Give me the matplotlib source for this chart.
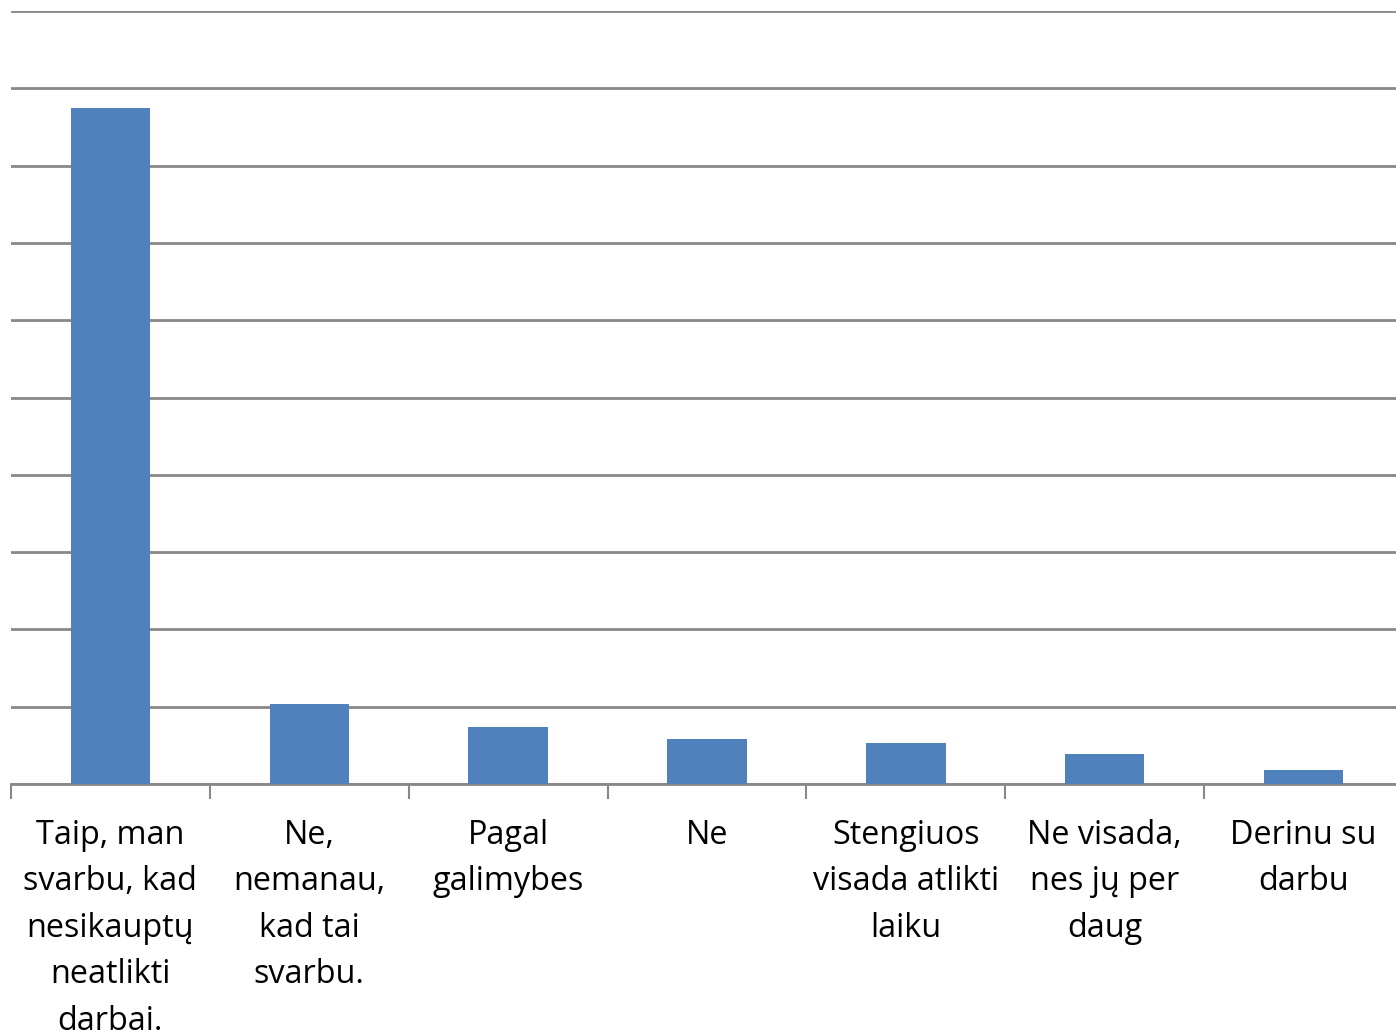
import numpy as np
import matplotlib.pyplot as plt

# Data (one gridline = 10 units)
labels = ['Taip, man\nsvarbu, kad\nnesikauptų\nneatlikti\ndarbai.',
          'Ne,\nnemanau,\nkad tai\nsvarbu.',
          'Pagal\ngalimybes',
          'Ne',
          'Stengiuos\nvisada atlikti\nlaiku',
          'Ne visada,\nnes jų per\ndaug',
          'Derinu su\ndarbu']
values = [87.4, 10.3, 7.4, 5.8, 5.3, 3.9, 1.8]

plt.rcParams['font.family'] = ['Open Sans', 'DejaVu Sans']

fig = plt.figure(figsize=(13.96, 10.30), dpi=100)
# chart is cropped on the right in the reference
ax = fig.add_axes([11 / 1396, 246 / 1030, 1392 / 1396, 773 / 1030])

x = np.arange(len(values))
ax.bar(x, values, width=0.4, color='#4F81BD', zorder=3)

ax.set_xlim(-0.5, len(values) - 0.5)
ax.set_ylim(0, 100)
ax.set_yticks(np.arange(0, 101, 10))
ax.set_yticklabels([])
ax.tick_params(axis='y', length=0)
ax.grid(axis='y', color='#888888', linewidth=2, zorder=0)

ax.set_xticks(x)
ax.set_xticklabels(labels, fontsize=23.3, linespacing=1.54)
ax.tick_params(axis='x', length=0, pad=25)
ax.set_xticks(np.arange(-0.5, len(values), 1), minor=True)
ax.tick_params(axis='x', which='minor', length=11, width=1.5, color='#888888', direction='out')

for side in ['top', 'right', 'left']:
    ax.spines[side].set_visible(False)
ax.spines['bottom'].set_color('#888888')
ax.spines['bottom'].set_linewidth(2)

fig.savefig('out.png', dpi=100)
